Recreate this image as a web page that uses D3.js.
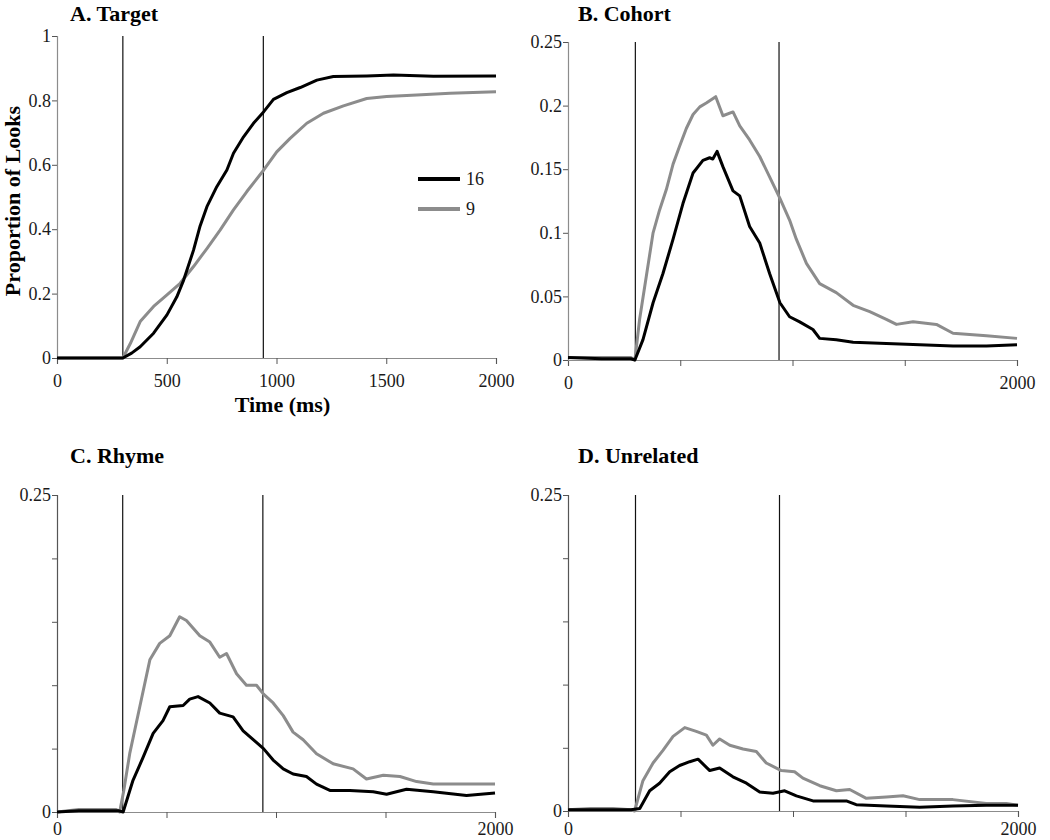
<!DOCTYPE html>
<html>
<head>
<meta charset="utf-8">
<script src="https://cdn.jsdelivr.net/npm/d3@7"></script>
<style>
  html, body { margin: 0; padding: 0; background: #fff; }
  svg text { font-family: "Liberation Serif", "Times New Roman", serif !important; }
</style>
</head>
<body>
<svg id="chart" width="1050" height="840"></svg>
<script>
// ---------- DATA ----------
const seriesNames = ["16", "9"];
const markerTimes = [300, 940];
const xTicks = [0, 500, 1000, 1500, 2000];
const yTicksTarget = [0, 0.2, 0.4, 0.6, 0.8, 1];
const yTicksComp = [0, 0.05, 0.1, 0.15, 0.2, 0.25];

// [time ms, proportion]
const targetSize16 = [[0,0],[100,0],[200,0],[300,0],[340,0.015],[379,0.035],[440,0.077],[501,0.134],[546,0.19],[577,0.242],[622,0.335],[652,0.41],[683,0.47],[728,0.532],[774,0.584],[804,0.636],[850,0.687],[895,0.729],[942,0.765],[986,0.803],[1047,0.824],[1108,0.84],[1184,0.863],[1259,0.874],[1411,0.876],[1533,0.879],[1715,0.875],[2000,0.876]];
const targetSize9 = [[0,0],[100,0],[200,0],[300,0],[334,0.045],[379,0.113],[440,0.16],[501,0.196],[561,0.232],[622,0.284],[683,0.34],[743,0.397],[804,0.46],[865,0.517],[942,0.584],[1001,0.64],[1062,0.682],[1138,0.729],[1214,0.76],[1305,0.783],[1411,0.806],[1502,0.812],[1639,0.817],[1791,0.822],[2000,0.827]];

const cohortSize16 = [[0,0.002],[150,0.001],[280,0.001],[298,0],[334,0.016],[379,0.045],[423,0.068],[468,0.095],[512,0.123],[557,0.147],[601,0.157],[631,0.159],[645,0.158],[664,0.164],[690,0.152],[735,0.133],[765,0.129],[809,0.105],[854,0.092],[898,0.068],[944,0.045],[987,0.034],[1032,0.03],[1091,0.024],[1121,0.017],[1195,0.016],[1270,0.014],[1418,0.013],[1567,0.012],[1715,0.011],[1864,0.011],[2000,0.012]];
const cohortSize9 = [[0,0.002],[150,0.002],[280,0.002],[298,0],[319,0.032],[349,0.066],[379,0.1],[408,0.118],[438,0.134],[468,0.154],[497,0.168],[527,0.182],[557,0.193],[587,0.199],[616,0.202],[658,0.207],[690,0.192],[735,0.195],[765,0.184],[809,0.173],[854,0.16],[898,0.144],[944,0.127],[987,0.11],[1017,0.095],[1062,0.076],[1121,0.06],[1195,0.053],[1270,0.043],[1344,0.038],[1418,0.032],[1463,0.028],[1537,0.03],[1641,0.028],[1715,0.021],[1789,0.02],[1864,0.019],[2000,0.017]];

const rhymeSize16 = [[0,0],[100,0.001],[200,0.001],[280,0.001],[302,0],[347,0.025],[393,0.043],[439,0.062],[484,0.072],[515,0.083],[576,0.084],[606,0.089],[644,0.091],[698,0.086],[743,0.078],[804,0.075],[850,0.064],[896,0.057],[943,0.05],[987,0.041],[1033,0.034],[1078,0.03],[1139,0.028],[1185,0.022],[1246,0.017],[1337,0.017],[1444,0.016],[1505,0.014],[1596,0.018],[1718,0.016],[1870,0.013],[2000,0.015]];
const rhymeSize9 = [[0,0],[100,0.002],[200,0.002],[270,0.002],[286,0],[305,0.017],[332,0.046],[378,0.083],[424,0.12],[469,0.133],[515,0.139],[560,0.154],[591,0.151],[652,0.139],[698,0.134],[743,0.122],[774,0.125],[820,0.109],[865,0.1],[911,0.1],[943,0.093],[987,0.086],[1033,0.076],[1078,0.063],[1124,0.057],[1185,0.046],[1261,0.038],[1352,0.034],[1413,0.026],[1490,0.029],[1566,0.028],[1642,0.024],[1718,0.022],[1870,0.022],[2000,0.022]];

const unrelatedSize16 = [[0,0.001],[150,0.001],[280,0.001],[319,0.002],[363,0.016],[407,0.022],[452,0.031],[496,0.036],[541,0.039],[578,0.041],[630,0.032],[674,0.034],[733,0.027],[793,0.022],[852,0.015],[911,0.014],[963,0.016],[1015,0.012],[1089,0.008],[1163,0.008],[1237,0.008],[1281,0.005],[1415,0.004],[1563,0.003],[1711,0.004],[1859,0.0045],[2000,0.0045]];
const unrelatedSize9 = [[0,0.001],[100,0.002],[200,0.002],[280,0.001],[296,0],[333,0.024],[378,0.038],[422,0.048],[467,0.059],[519,0.066],[570,0.063],[615,0.06],[644,0.052],[674,0.057],[719,0.052],[778,0.049],[837,0.047],[881,0.038],[948,0.032],[1007,0.031],[1044,0.026],[1119,0.02],[1193,0.016],[1252,0.017],[1326,0.01],[1415,0.011],[1489,0.012],[1563,0.009],[1711,0.009],[1859,0.006],[1948,0.006],[2000,0.0045]];

const panelTitles = ["A. Target", "B. Cohort", "C. Rhyme", "D. Unrelated"];

// ---------- LAYOUT ----------
const panels = [
  { title: panelTitles[0], s16: targetSize16, s9: targetSize9, ymax: 1,    yTicks: yTicksTarget, yLabels: yTicksTarget, xLabels: xTicks,
    x0: 57,  x1: 496,  yTop: 36,  yBot: 358, tx: 70,  ty: 21,  xLabY: 16, yAxisColor: "#8c8c8c" },
  { title: panelTitles[1], s16: cohortSize16, s9: cohortSize9, ymax: 0.25, yTicks: yTicksComp, yLabels: yTicksComp, xLabels: [0, 2000],
    x0: 568, x1: 1017, yTop: 42,  yBot: 360, tx: 578, ty: 21,  xLabY: 16, yAxisColor: "#8c8c8c" },
  { title: panelTitles[2], s16: rhymeSize16, s9: rhymeSize9, ymax: 0.25, yTicks: yTicksComp, yLabels: [0, 0.25], xLabels: [0, 2000],
    x0: 57,  x1: 495,  yTop: 495, yBot: 812, tx: 70,  ty: 463, xLabY: 10, yAxisColor: "#555" },
  { title: panelTitles[3], s16: unrelatedSize16, s9: unrelatedSize9, ymax: 0.25, yTicks: yTicksComp, yLabels: [0, 0.25], xLabels: [0, 2000],
    x0: 568, x1: 1018, yTop: 495, yBot: 811, tx: 578, ty: 463, xLabY: 11, yAxisColor: "#555" }
];

const serif = '"Liberation Serif", "Times New Roman", serif';
const svg = d3.select("#chart");
const colors = { "16": "#000000", "9": "#8c8c8c" };

panels.forEach((p, i) => {
  const g = svg.append("g");
  const x = d3.scaleLinear().domain([0, 2000]).range([p.x0, p.x1]);
  const y = d3.scaleLinear().domain([0, p.ymax]).range([p.yBot, p.yTop]);

  // title
  g.append("text").attr("x", p.tx).attr("y", p.ty)
    .style("font-family", serif).style("font-size", "22px").style("font-weight", "bold")
    .attr("fill", "#000").text(p.title);

  // x axis
  const xAxis = d3.axisBottom(x).tickValues(xTicks).tickSize(6)
    .tickFormat(d => p.xLabels.includes(d) ? String(d) : "");
  const gx = g.append("g").attr("transform", `translate(0,${p.yBot})`).call(xAxis);
  gx.select(".domain").attr("stroke", "#8c8c8c").attr("stroke-width", 1.2);
  gx.selectAll(".tick line").attr("stroke", "#555");
  gx.selectAll(".tick text").style("font-size", "18px").style("font-family", serif)
    .attr("fill", "#1a1a1a").attr("dy", "0.71em").attr("y", p.xLabY);

  // y axis
  const yAxis = d3.axisLeft(y).tickValues(p.yTicks).tickSize(5)
    .tickFormat(d => p.yLabels.includes(d) ? String(d) : "");
  const gy = g.append("g").attr("transform", `translate(${p.x0},0)`).call(yAxis);
  gy.select(".domain").attr("stroke", p.yAxisColor).attr("stroke-width", 1.2);
  gy.selectAll(".tick line").attr("stroke", "#555");
  gy.selectAll(".tick text").style("font-size", "18px").style("font-family", serif)
    .attr("fill", "#1a1a1a").attr("x", -6);

  // marker lines
  g.selectAll(".marker").data(markerTimes).enter().append("line")
    .attr("x1", d => x(d)).attr("x2", d => x(d))
    .attr("y1", p.yTop).attr("y2", p.yBot)
    .attr("stroke", "#111").attr("stroke-width", 1.2);

  const line = d3.line().x(d => x(d[0])).y(d => y(d[1]));
  g.append("path").datum(p.s9).attr("d", line)
    .attr("fill", "none").attr("stroke", colors["9"]).attr("stroke-width", 3).attr("stroke-linejoin", "round");
  g.append("path").datum(p.s16).attr("d", line)
    .attr("fill", "none").attr("stroke", colors["16"]).attr("stroke-width", 3).attr("stroke-linejoin", "round");

  if (i === 0) {
    // axis titles
    g.append("text").attr("x", (p.x0 + p.x1) / 2 + 6).attr("y", 412)
      .attr("text-anchor", "middle")
      .style("font-family", serif).style("font-size", "22px").style("font-weight", "bold")
      .text("Time (ms)");
    g.append("text").attr("transform", `translate(20,${(p.yTop + p.yBot) / 2 + 4}) rotate(-90)`)
      .attr("text-anchor", "middle")
      .style("font-family", serif).style("font-size", "22px").style("font-weight", "bold")
      .text("Proportion of Looks");
    // legend
    const leg = g.append("g");
    seriesNames.forEach((n, k) => {
      const ly = 179 + k * 30;
      leg.append("line").attr("x1", 418).attr("x2", 460).attr("y1", ly).attr("y2", ly)
        .attr("stroke", colors[n]).attr("stroke-width", 4);
      leg.append("text").attr("x", 466).attr("y", ly).attr("dy", "0.35em")
        .style("font-family", serif).style("font-size", "18px")
        .attr("fill", "#1a1a1a").text(n);
    });
  }
});
</script>
</body>
</html>
